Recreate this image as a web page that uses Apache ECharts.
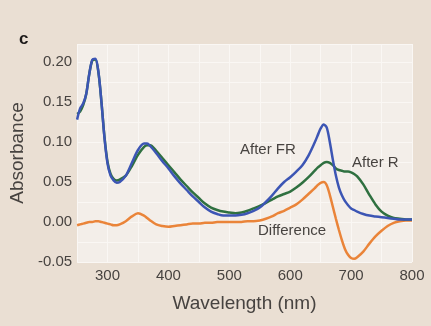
<!DOCTYPE html>
<html>
<head>
<meta charset="utf-8">
<script src="https://cdn.jsdelivr.net/npm/echarts@6/dist/echarts.min.js"></script>
<style>
  html, body { margin: 0; padding: 0; background: #eadfd3; }
  #chart { width: 431px; height: 326px; }
</style>
</head>
<body>
<div id="chart"></div>
<script>
// wavelengths (nm), shared by all three curves
const wavelengths = [
  250, 255, 260, 265, 270, 275, 280, 285, 290, 295,
  300, 305, 310, 315, 320, 330, 340, 350, 360, 365,
  370, 380, 390, 400, 410, 420, 430, 440, 450, 460,
  470, 480, 490, 500, 510, 520, 530, 540, 550, 560,
  570, 580, 590, 600, 610, 620, 630, 640, 645, 650,
  655, 660, 665, 670, 675, 680, 685, 690, 695, 700,
  705, 710, 720, 730, 740, 750, 760, 770, 780, 790,
  800
];
const afterFR = [
  0.128, 0.142, 0.148, 0.160, 0.185, 0.203, 0.204, 0.188, 0.150, 0.105,
  0.073, 0.058, 0.052, 0.049, 0.050, 0.058, 0.074, 0.090, 0.098, 0.098,
  0.095, 0.086, 0.076, 0.067, 0.057, 0.048, 0.040, 0.032, 0.025, 0.018,
  0.013, 0.010, 0.008, 0.008, 0.008, 0.009, 0.011, 0.014, 0.018, 0.025,
  0.033, 0.042, 0.050, 0.056, 0.063, 0.071, 0.083, 0.099, 0.108, 0.117,
  0.122, 0.118, 0.100, 0.078, 0.058, 0.043, 0.033, 0.026, 0.021, 0.017,
  0.015, 0.013, 0.010, 0.008, 0.007, 0.006, 0.005, 0.004, 0.003, 0.003,
  0.003
];
const afterR = [
  0.135, 0.138, 0.146, 0.160, 0.185, 0.202, 0.203, 0.187, 0.150, 0.106,
  0.075, 0.060, 0.054, 0.052, 0.053, 0.058, 0.070, 0.084, 0.094, 0.096,
  0.096, 0.089, 0.080, 0.071, 0.062, 0.053, 0.045, 0.037, 0.030, 0.023,
  0.018, 0.015, 0.013, 0.012, 0.011, 0.012, 0.014, 0.017, 0.020, 0.024,
  0.028, 0.032, 0.035, 0.038, 0.043, 0.049, 0.056, 0.064, 0.068, 0.071,
  0.074, 0.075, 0.074, 0.071, 0.067, 0.065, 0.064, 0.063, 0.063, 0.062,
  0.060, 0.057, 0.047, 0.034, 0.022, 0.013, 0.008, 0.005, 0.004, 0.003,
  0.003
];
const difference = [
  -0.004, -0.003, -0.002, -0.001, 0.000, 0.000, 0.001, 0.001, 0.000, -0.001,
  -0.002, -0.003, -0.004, -0.004, -0.003, 0.001, 0.007, 0.011, 0.008, 0.005,
  0.002, -0.003, -0.005, -0.006, -0.005, -0.004, -0.003, -0.002, -0.002, -0.001,
  -0.001, 0.000, 0.000, 0.000, 0.000, 0.000, 0.001, 0.001, 0.002, 0.004,
  0.007, 0.011, 0.014, 0.018, 0.022, 0.028, 0.035, 0.042, 0.046, 0.049,
  0.050, 0.046, 0.034, 0.019, 0.004, -0.010, -0.023, -0.034, -0.041, -0.045,
  -0.046, -0.044, -0.037, -0.027, -0.018, -0.011, -0.005, -0.001, 0.001, 0.002,
  0.002
];
const xTicks = [300, 400, 500, 600, 700, 800];
const yTicks = [-0.05, 0.00, 0.05, 0.10, 0.15, 0.20];

const pairs = ys => wavelengths.map((w, i) => [w, ys[i]]);
const font = '"Liberation Sans", Arial, sans-serif';
const textColor = '#474340';

const myChart = echarts.init(document.getElementById('chart'));
const option = {
  backgroundColor: '#eadfd3',
  animation: false,
  grid: {
    left: 77, right: 19, top: 44, bottom: 64,
    show: true,
    backgroundColor: '#f3eee9',
    borderWidth: 0
  },
  xAxis: {
    type: 'value',
    min: 250,
    max: 800,
    interval: 50,
    axisLine: { show: false },
    axisTick: { show: false },
    splitLine: { show: true, lineStyle: { color: '#faf7f4', width: 1 } },
    axisLabel: {
      margin: 6,
      fontSize: 15,
      fontFamily: font,
      color: textColor,
      // 只显示整百
      formatter: v => (xTicks.includes(v) ? String(v) : '')
    },
    name: 'Wavelength (nm)',
    nameLocation: 'middle',
    nameGap: 32,
    nameTextStyle: { fontSize: 19, fontFamily: font, color: textColor }
  },
  yAxis: {
    type: 'value',
    min: -0.05,
    max: 0.2225,
    interval: 0.025,
    axisLine: { show: false },
    axisTick: { show: false },
    splitLine: { show: true, lineStyle: { color: '#faf7f4', width: 1 } },
    axisLabel: {
      margin: 5,
      fontSize: 15,
      fontFamily: font,
      color: textColor,
      formatter: v => {
        const hit = yTicks.find(t => Math.abs(t - v) < 1e-6);
        return hit === undefined ? '' : hit.toFixed(2);
      }
    },
    name: 'Absorbance',
    nameLocation: 'middle',
    nameGap: 49,
    nameTextStyle: { fontSize: 19, fontFamily: font, color: textColor }
  },
  series: [
    {
      name: 'Difference',
      type: 'line',
      data: pairs(difference),
      smooth: 0.3,
      showSymbol: false,
      lineStyle: { color: '#ea8439', width: 2.5 }
    },
    {
      name: 'After R',
      type: 'line',
      data: pairs(afterR),
      smooth: 0.3,
      showSymbol: false,
      lineStyle: { color: '#2f7040', width: 2.5 }
    },
    {
      name: 'After FR',
      type: 'line',
      data: pairs(afterFR),
      smooth: 0.3,
      showSymbol: false,
      lineStyle: { color: '#3c55b4', width: 2.5 }
    }
  ],
  graphic: [
    { type: 'text', z: 100, left: 19, top: 31, style: { text: 'c', font: 'bold 17px ' + font, fill: '#1e1b1a' } },
    { type: 'text', z: 100, left: 240, top: 142, style: { text: 'After FR', font: '15px ' + font, fill: textColor } },
    { type: 'text', z: 100, left: 352, top: 155, style: { text: 'After R', font: '15px ' + font, fill: textColor } },
    { type: 'text', z: 100, left: 258, top: 223, style: { text: 'Difference', font: '15px ' + font, fill: textColor } }
  ]
};
myChart.setOption(option);
</script>
</body>
</html>
